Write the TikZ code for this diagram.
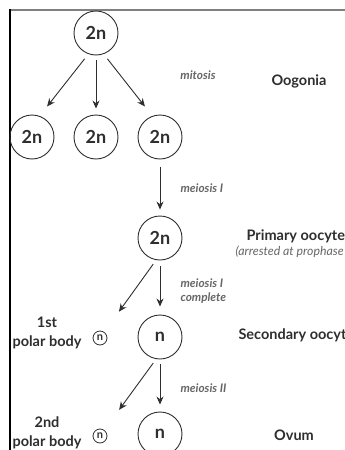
\documentclass[tikz,border=0pt]{standalone}
\usepackage{fontspec}
\setmainfont{Lato}
\usetikzlibrary{arrows.meta}
\definecolor{ink}{HTML}{2E2E2E}
\definecolor{note}{HTML}{666666}
\begin{document}
\begin{tikzpicture}
  [x=1pt,y=-1pt,
   cell/.style={circle,draw=ink,line width=0.9pt,minimum size=44pt,inner sep=0pt,
     text=ink,font=\fontsize{18}{18}\selectfont\bfseries},
   pbody/.style={circle,draw=ink,line width=0.8pt,minimum size=14pt,inner sep=0pt,
     text=ink,font=\fontsize{11}{11}\selectfont\bfseries},
   stage/.style={text=ink,font=\fontsize{14.5}{19}\selectfont\bfseries},
   step note/.style={text=note,font=\fontsize{11.8}{14}\selectfont\bfseries\itshape,align=left},
   arr/.style={-{Stealth[length=8pt,width=7pt]},line width=0.9pt,draw=ink}]
  \clip (0,0) rectangle (345,450);
  \useasboundingbox (0,0) rectangle (345,450);
  % frame
  \draw[gray,line width=2pt] (10,9.5) -- (345,9.5);
  \draw[black,line width=1.3pt] (10,9) -- (10,450);

  \node[cell] (z) at (96,33)  {2n};
  \node[cell] (o1) at (32,137)  {2n};
  \node[cell] (o2) at (96,137)  {2n};
  \node[cell] (o3) at (160,137) {2n};
  \node[cell] (p) at (160,238) {2n};
  \node[cell] (s) at (160,337) {n};
  \node[cell] (v) at (160,434) {n};
  \node[pbody] (pb1) at (100,338) {n};
  \node[pbody] (pb2) at (100,436) {n};

  \node[step note] (mit) at (198,75) {mitosis};
  \node[stage] (oog) at (299,81) {Oogonia};
  \node[step note,anchor=west] (mei1) at (177,188) {meiosis I};
  \node[stage,anchor=west] (prim) at (243,236) {Primary oocyte};
  \node[step note,anchor=west,font=\fontsize{12.3}{14}\selectfont\itshape] (arrest) at (232,252) {(arrested at prophase I)};
  \node[step note,anchor=west] (mei1c) at (177,291) {meiosis I\\complete};
  \node[stage,align=center] (pl1) at (47,332.5) {1st\\polar body};
  \node[stage,anchor=west] (sec) at (235,335) {Secondary oocyte};
  \node[step note,anchor=west] (mei2) at (177,388) {meiosis II};
  \node[stage,align=center] (pl2) at (47,432.5) {2nd\\polar body};
  \node[stage] (ovum) at (294,435) {Ovum};

  \draw[arr,shorten <=6pt,shorten >=12pt] (z.250) -- (o1.70);
  \draw[arr,shorten <=5pt,shorten >=6pt] (z) -- (o2);
  \draw[arr,shorten <=6pt,shorten >=12pt] (z.290) -- (o3.110);
  \draw[arr,shorten <=8pt,shorten >=6pt] (o3) -- (p);
  \draw[arr,shorten <=5pt,shorten >=25pt] (p.260) -- (pb1);
  \draw[arr,shorten <=6pt,shorten >=8pt] (p) -- (s);
  \draw[arr,shorten <=5pt,shorten >=25pt] (s.260) -- (pb2);
  \draw[arr,shorten <=5pt,shorten >=7pt] (s) -- (v);
\end{tikzpicture}
\end{document}
